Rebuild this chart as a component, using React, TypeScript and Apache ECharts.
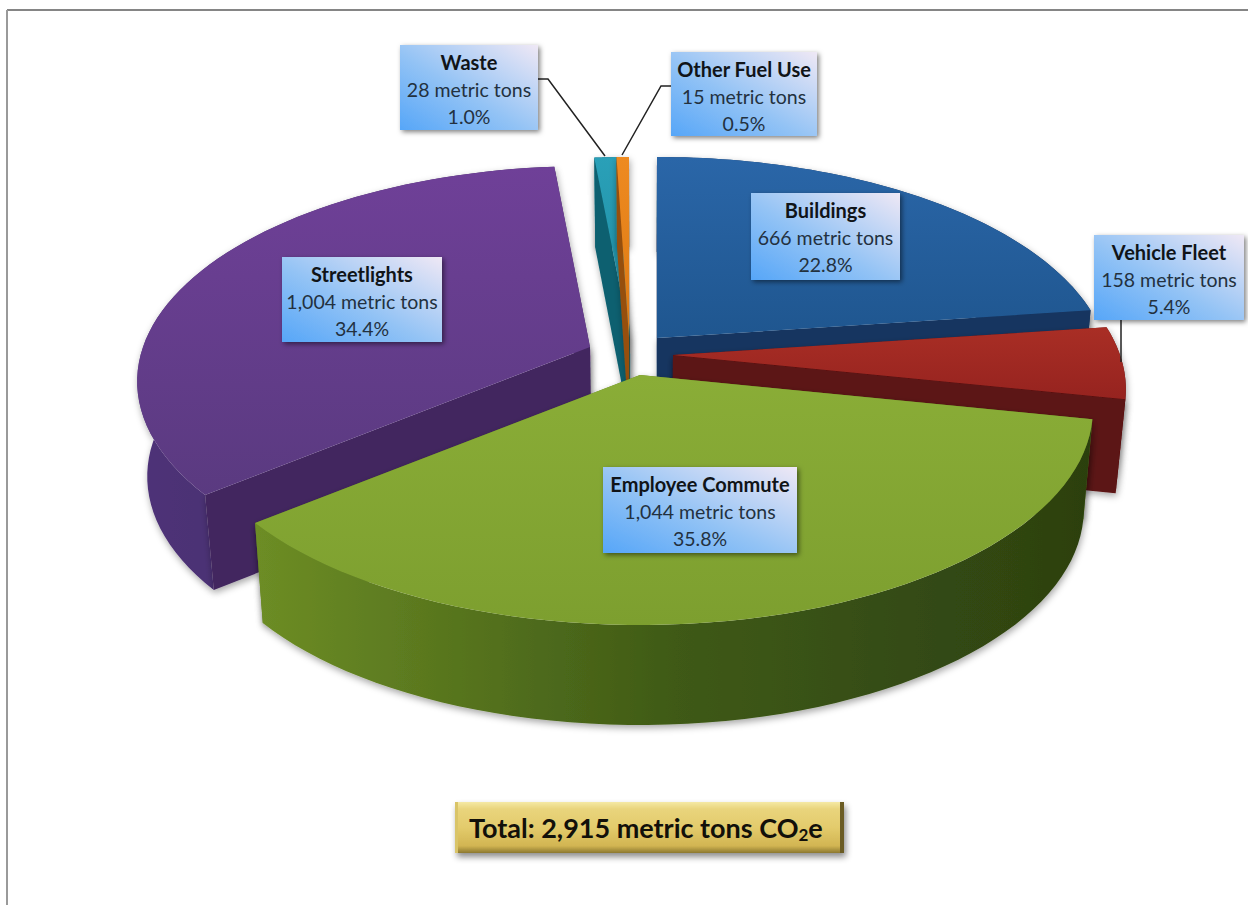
import React, { useEffect, useRef } from "react";
import * as echarts from "echarts";

// ---- data (clockwise from 12 o'clock) ----
const sliceNames = ["Buildings", "Vehicle Fleet", "Employee Commute", "Streetlights", "Waste", "Other Fuel Use"];
const sliceTons = [666, 158, 1044, 1004, 28, 15];
const tonLabels = ["666 metric tons", "158 metric tons", "1,044 metric tons", "1,004 metric tons", "28 metric tons", "15 metric tons"];
const percentLabels = ["22.8%", "5.4%", "35.8%", "34.4%", "1.0%", "0.5%"];
const totalParts = ["Total: 2,915 metric tons CO", "2", "e"];

// ---- styling / layout ----
const drawOrder = [4, 5, 0, 3, 1, 2];
const explodeApex = [[657, 338], [673, 355], [640, 375], [590, 347], [630, 338], [629, 338]];
const sliceDepth = [95, 94, 100, 95, 90, 90];
const topColors = [["#2a66a8", "#1f568f"], ["#a92e25", "#96231f"], ["#8aad37", "#7d9f2f"], ["#6f4098", "#5a3a80"], ["#2aa0b8", "#1d8ba0"], ["#ee8a20", "#dd7a14"]];
const sideColors = [
  ["#17396a", "#122c52"],
  ["#651414", "#4f0e0e"],
  ["#6d8d25", "#3f5a16", "#2c4010"],
  ["#4e3278", "#40265f"],
  ["#0f6f80", "#0b5563"],
  ["#a85a10", "#8a480c"],
];
const cutColors = ["#153560", "#5c1212", "#5f7e20", "#42265f", "#0d6070", "#964f0e"];
const boxes = [[751, 193, 149, 87], [1094, 235, 150, 85], [603, 467, 194, 86], [282, 257, 160, 85], [400, 45, 138, 85], [671, 52, 146, 84]];
const leaders = [
  [[538, 79], [548, 79], [605, 156]],
  [[671, 86], [661, 86], [622, 155]],
  [[1121, 320], [1121, 362]],
];
const RX = 447, RY = 210, PERSP = 0.16, VANISH_X = 640, BOTTOM_SCALE = 0.98;
const FONT = "Lato";

function project(apex: number[], angle: number, radius: number, depth: number) {
  const u = radius * Math.sin(angle);
  const v = -radius * Math.cos(angle);
  const s = 1 / (1 - PERSP * v);
  let x = apex[0] + RX * u * s;
  let y = apex[1] + RY * v * s;
  if (depth > 0) {
    x = VANISH_X + (x - VANISH_X) * BOTTOM_SCALE;
    y += depth;
  }
  return [x, y];
}

function stops(c: string[]) {
  return c.map((color, i) => ({ offset: i / (c.length - 1), color }));
}
function vGrad(c: string[]) {
  return new echarts.graphic.LinearGradient(0, 0, 0, 1, stops(c));
}
function hGrad(c: string[]) {
  return new echarts.graphic.LinearGradient(0, 0, 1, 0, stops(c));
}

const shadow = { shadowBlur: 7, shadowColor: "rgba(0,0,0,0.35)", shadowOffsetX: 1, shadowOffsetY: 3 };

function renderSlice(_params: any, api: any) {
  const i = api.value(1);
  const total = sliceTons.reduce((a, b) => a + b, 0);
  const before = sliceTons.slice(0, i).reduce((a, b) => a + b, 0);
  const a0 = (before / total) * Math.PI * 2;
  const a1 = ((before + api.value(0)) / total) * Math.PI * 2;
  const apex = explodeApex[i];
  const d = sliceDepth[i];
  const steps = 60;
  const upper: number[][] = [];
  const lowerArc: number[][] = [];
  for (let k = 0; k <= steps; k++) {
    const a = a0 + ((a1 - a0) * k) / steps;
    upper.push(project(apex, a, 1, 0));
    lowerArc.push(project(apex, a, 1, d));
  }
  const cut = (a: number) => [
    project(apex, a, 0, 0),
    project(apex, a, 1, 0),
    project(apex, a, 1, d),
    project(apex, a, 0, d),
  ];
  const faces = [
    { depth: -Math.cos(a0) / 2, points: cut(a0), fill: cutColors[i] as any },
    { depth: -Math.cos(a1) / 2, points: cut(a1), fill: cutColors[i] as any },
    {
      depth: -Math.cos((a0 + a1) / 2) * 0.8,
      points: upper.concat(lowerArc.slice().reverse()),
      fill: hGrad(sideColors[i]) as any,
    },
  ].sort((p, q) => p.depth - q.depth);
  const children: any[] = faces.map((f) => ({
    type: "polygon",
    shape: { points: f.points },
    style: { fill: f.fill, ...shadow },
  }));
  children.push({
    type: "polygon",
    shape: { points: [apex].concat(upper) },
    style: { fill: vGrad(topColors[i]) },
  });
  return { type: "group", children };
}

function labelGraphics() {
  const out: any[] = [];
  // frame
  out.push({ type: "line", z: 1, shape: { x1: 7, y1: 10, x2: 1248, y2: 10 }, style: { stroke: "#858585", lineWidth: 2 } });
  out.push({ type: "line", z: 1, shape: { x1: 7, y1: 10, x2: 7, y2: 905 }, style: { stroke: "#9a9a9a", lineWidth: 2 } });
  // leaders
  leaders.forEach((pts) => {
    out.push({ type: "polyline", z: 20, shape: { points: pts }, style: { stroke: "#222", lineWidth: 1.5, fill: "none" } });
  });
  // boxes
  boxes.forEach((b, i) => {
    out.push({
      type: "rect",
      z: 30,
      shape: { x: b[0], y: b[1], width: b[2], height: b[3] },
      style: {
        fill: new echarts.graphic.LinearGradient(0, 1, 1, 0, [
          { offset: 0, color: "#56a6f8" },
          { offset: 0.45, color: "#93c3f5" },
          { offset: 1, color: "#efe8f5" },
        ]),
        shadowBlur: 5,
        shadowColor: "rgba(0,0,0,0.5)",
        shadowOffsetX: 2,
        shadowOffsetY: 2,
      },
    });
    const lines = [sliceNames[i], tonLabels[i], percentLabels[i]];
    lines.forEach((t, k) => {
      out.push({
        type: "text",
        z: 31,
        x: b[0] + b[2] / 2,
        y: b[1] + 17 + k * 27,
        style: {
          text: t,
          fontFamily: FONT,
          fontSize: k === 0 ? 20 : 19.5,
          fontWeight: k === 0 ? "bold" : "normal",
          fill: k === 0 ? "#101418" : "#23313f",
          align: "center",
          verticalAlign: "middle",
        },
      });
    });
  });
  // total box
  const tx = 455, ty = 802, tw = 389, th = 51;
  out.push({
    type: "rect",
    z: 30,
    shape: { x: tx, y: ty, width: tw, height: th },
    style: {
      fill: new echarts.graphic.LinearGradient(0, 0, 0, 1, [
        { offset: 0, color: "#f5e9a4" },
        { offset: 0.14, color: "#e9d47c" },
        { offset: 0.5, color: "#e3cb6c" },
        { offset: 0.86, color: "#d2b552" },
        { offset: 1, color: "#8c7830" },
      ]),
      shadowBlur: 6,
      shadowColor: "rgba(0,0,0,0.45)",
      shadowOffsetX: 2,
      shadowOffsetY: 4,
    },
  });
  out.push({ type: "rect", z: 31, shape: { x: tx + tw - 4, y: ty, width: 4, height: th }, style: { fill: "#6b5c24" } });
  out.push({ type: "rect", z: 31, shape: { x: tx, y: ty, width: 3, height: th }, style: { fill: "#d9c468" } });
  out.push({
    type: "text",
    z: 32,
    x: 469,
    y: 827,
    style: {
      text: `{m|${totalParts[0]}}{s|${totalParts[1]}}{m|${totalParts[2]}}`,
      fontFamily: FONT,
      align: "left",
      verticalAlign: "middle",
      rich: {
        m: { fontFamily: FONT, fontSize: 27, fontWeight: "bold", fill: "#12100a", lineHeight: 32 },
        s: { fontFamily: FONT, fontSize: 17, fontWeight: "bold", fill: "#12100a", verticalAlign: "bottom", lineHeight: 32 },
      },
    },
  });
  return out;
}

export default function App() {
  const ref = useRef<HTMLDivElement>(null);
  useEffect(() => {
    const chart = echarts.init(ref.current!, undefined, { renderer: "svg" });
    chart.setOption({
      animation: false,
      backgroundColor: "#ffffff",
      series: [
        {
          type: "custom",
          coordinateSystem: "none",
          silent: true,
          renderItem: renderSlice,
          data: drawOrder.map((i) => [sliceTons[i], i]),
        },
      ],
      graphic: { elements: labelGraphics() },
    });
    return () => chart.dispose();
  }, []);
  return <div ref={ref} style={{ position: "absolute", left: 0, top: 0, width: 1248, height: 905 }} />;
}
